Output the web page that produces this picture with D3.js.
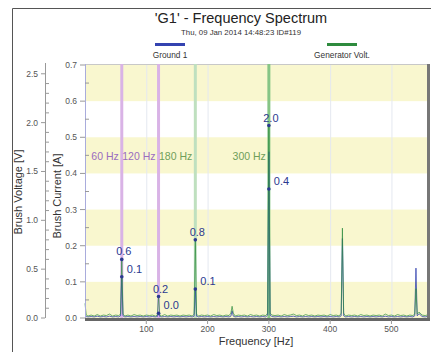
<!DOCTYPE html>
<html><head><meta charset="utf-8">
<script src="https://cdn.jsdelivr.net/npm/d3@7"></script>
<style>
body{margin:0;background:#fff;}
svg{display:block;font-family:"Liberation Sans",Arial,sans-serif;}
</style></head>
<body><svg id="c" width="431" height="352"></svg>
<script>
const title = "'G1' - Frequency Spectrum";
const subtitle = "Thu, 09 Jan 2014 14:48:23 ID#119";
const seriesNames = ["Ground 1", "Generator Volt."];
const currentTicks = [0, 0.1, 0.2, 0.3, 0.4, 0.5, 0.6, 0.7];
const voltageTicks = [0, 0.5, 1.0, 1.5, 2.0, 2.5];
const freqTicks = [100, 200, 300, 400, 500];
const markerFreq = [60, 120, 180, 300];
const markerLabels = ["60 Hz", "120 Hz", "180 Hz", "300 Hz"];
const markerVolt = [0.6, 0.22, 0.8, 1.97];
const markerCurrent = [0.114, 0.013, 0.08, 0.357];

const genVolt = [[0,0.15],[2,0.03],[5,0.02],[10,0.03],[15,0.02],[20,0.035],[25,0.02],[30,0.03],[35,0.025],[40,0.04],[45,0.02],[50,0.03],[55,0.025],[58,0.04],[60,0.61],[62,0.04],[65,0.02],[70,0.03],[75,0.02],[80,0.035],[85,0.025],[90,0.03],[95,0.02],[100,0.03],[105,0.025],[110,0.03],[115,0.02],[118,0.03],[120,0.22],[122,0.03],[125,0.02],[130,0.035],[135,0.02],[140,0.03],[145,0.025],[150,0.03],[155,0.02],[160,0.03],[165,0.025],[170,0.03],[175,0.02],[178,0.04],[180,0.8],[182,0.04],[185,0.02],[190,0.03],[195,0.025],[200,0.03],[205,0.02],[210,0.035],[215,0.025],[220,0.03],[225,0.02],[230,0.03],[235,0.025],[238,0.05],[240,0.12],[242,0.05],[245,0.02],[250,0.03],[255,0.025],[260,0.03],[265,0.02],[270,0.035],[275,0.025],[280,0.03],[285,0.02],[290,0.03],[295,0.025],[298,0.05],[300,1.97],[302,0.05],[305,0.03],[310,0.025],[315,0.03],[320,0.02],[325,0.035],[330,0.025],[335,0.03],[340,0.04],[345,0.025],[350,0.03],[355,0.02],[360,0.035],[365,0.025],[370,0.03],[375,0.02],[380,0.03],[385,0.025],[390,0.03],[395,0.02],[400,0.035],[405,0.025],[410,0.03],[415,0.02],[418,0.05],[420,0.92],[422,0.05],[425,0.02],[430,0.03],[435,0.025],[440,0.03],[445,0.02],[450,0.035],[455,0.025],[460,0.03],[465,0.02],[470,0.03],[475,0.025],[480,0.03],[485,0.02],[490,0.04],[495,0.025],[500,0.03],[505,0.02],[510,0.035],[515,0.025],[520,0.03],[525,0.02],[530,0.03],[535,0.025],[538,0.04],[540,0.3],[542,0.04],[545,0.06],[550,0.03],[555,0.025],[558,0.03]];

const ground1 = [[0,0.006],[2,0.004],[5,0.003],[10,0.004],[15,0.003],[20,0.005],[25,0.003],[30,0.004],[35,0.003],[40,0.005],[45,0.003],[50,0.004],[55,0.003],[58,0.006],[60,0.115],[62,0.006],[65,0.003],[70,0.004],[75,0.003],[80,0.004],[85,0.003],[90,0.004],[95,0.003],[100,0.004],[105,0.003],[110,0.004],[115,0.003],[118,0.004],[120,0.013],[122,0.004],[125,0.003],[130,0.004],[135,0.003],[140,0.004],[145,0.003],[150,0.004],[155,0.003],[160,0.004],[165,0.003],[170,0.004],[175,0.003],[178,0.005],[180,0.08],[182,0.005],[185,0.003],[190,0.004],[195,0.003],[200,0.004],[205,0.003],[210,0.004],[215,0.003],[220,0.004],[225,0.003],[230,0.004],[235,0.003],[238,0.005],[240,0.02],[242,0.005],[245,0.003],[250,0.004],[255,0.003],[260,0.004],[265,0.003],[270,0.004],[275,0.003],[280,0.004],[285,0.003],[290,0.004],[295,0.003],[298,0.008],[300,0.46],[302,0.008],[305,0.004],[310,0.003],[315,0.004],[320,0.003],[325,0.004],[330,0.003],[335,0.004],[340,0.005],[345,0.003],[350,0.004],[355,0.003],[360,0.004],[365,0.003],[370,0.004],[375,0.003],[380,0.004],[385,0.003],[390,0.004],[395,0.003],[400,0.004],[405,0.003],[410,0.004],[415,0.003],[418,0.006],[420,0.22],[422,0.006],[425,0.003],[430,0.004],[435,0.003],[440,0.004],[445,0.003],[450,0.004],[455,0.003],[460,0.004],[465,0.003],[470,0.004],[475,0.003],[480,0.004],[485,0.003],[490,0.005],[495,0.003],[500,0.004],[505,0.003],[510,0.004],[515,0.003],[520,0.004],[525,0.003],[530,0.004],[535,0.003],[538,0.006],[540,0.138],[542,0.006],[545,0.012],[550,0.004],[555,0.003],[558,0.004]];

const svg = d3.select("#c");
const L = 85, R = 427, T = 64, B = 318;
const x = d3.scaleLinear().domain([0, 558]).range([L, R]);
const yA = d3.scaleLinear().domain([0, 0.7]).range([B, 65]);
const yV = d3.scaleLinear().domain([0, 2.59]).range([B, 65]);
const blue = "#3443b0", green = "#2e8b3e";

// outer border
svg.append("path").attr("d", `M12.5,352 V8.5 H431`).attr("fill", "none").attr("stroke", "#555").attr("stroke-width", 1);

// titles
svg.append("text").attr("x", 241).attr("y", 23).attr("text-anchor", "middle").attr("font-size", 14.5).attr("fill", "#222").text(title);
svg.append("text").attr("x", 241).attr("y", 35).attr("text-anchor", "middle").attr("font-size", 7.8).attr("fill", "#333").text(subtitle);

// legend
const legX = [170, 342], legC = [blue, green];
seriesNames.forEach((n, i) => {
  svg.append("line").attr("x1", legX[i] - 15).attr("x2", legX[i] + 15).attr("y1", 44.5).attr("y2", 44.5).attr("stroke", legC[i]).attr("stroke-width", 3);
  svg.append("text").attr("x", legX[i]).attr("y", 58).attr("text-anchor", "middle").attr("font-size", 8.3).attr("fill", "#333").text(n);
});

// bands
const bands = [[0, 0.1], [0.2, 0.3], [0.4, 0.5], [0.6, 0.7]];
svg.append("g").selectAll("rect").data(bands).join("rect")
  .attr("x", L).attr("width", R - L)
  .attr("y", d => yA(d[1])).attr("height", d => yA(d[0]) - yA(d[1]))
  .attr("fill", "#f9f7cf");

// faint vertical grid
svg.append("g").selectAll("line").data(freqTicks).join("line")
  .attr("x1", d => x(d) + 0.5).attr("x2", d => x(d) + 0.5).attr("y1", T).attr("y2", B)
  .attr("stroke", "#e4e8f0").attr("stroke-width", 1);

// frame
svg.append("line").attr("x1", L).attr("x2", R).attr("y1", T + 0.5).attr("y2", T + 0.5).attr("stroke", "#c8c8c8");
svg.append("line").attr("x1", R + 1.5).attr("x2", R + 1.5).attr("y1", T).attr("y2", B + 3).attr("stroke", "#777").attr("stroke-width", 3);

// marker lines
const mCol = ["#d9b3e6", "#d9b3e6", "#bfe0bf", "#86c586"];
const mTxt = ["#9a6cc0", "#9a6cc0", "#6f9e5a", "#6f9e5a"];
markerFreq.forEach((f, i) => {
  svg.append("line").attr("x1", x(f)).attr("x2", x(f)).attr("y1", T).attr("y2", B).attr("stroke", mCol[i]).attr("stroke-width", 3);
  svg.append("text").attr("x", x(f) - 3).attr("y", 160).attr("text-anchor", "end").attr("font-size", 10.5).attr("fill", mTxt[i]).text(markerLabels[i]);
});

// series
const lineV = d3.line().x(d => x(d[0])).y(d => yV(d[1]));
const lineA = d3.line().x(d => x(d[0])).y(d => yA(d[1]));
svg.append("path").datum(ground1).attr("d", lineA).attr("fill", "none").attr("stroke", blue).attr("stroke-width", 1).attr("opacity", 0.8);
svg.append("path").datum(genVolt).attr("d", lineV).attr("fill", "none").attr("stroke", green).attr("stroke-width", 1).attr("opacity", 0.7);

// bottom axis bar
svg.append("line").attr("x1", L).attr("x2", R + 3).attr("y1", B + 1.5).attr("y2", B + 1.5).attr("stroke", "#666").attr("stroke-width", 3);

// marker points
const mp = svg.append("g").attr("fill", "#2b3990").attr("font-size", 11);
markerFreq.forEach((f, i) => {
  const yv = yV(markerVolt[i]), ya = yA(markerCurrent[i]);
  mp.append("circle").attr("cx", x(f)).attr("cy", yv).attr("r", 1.8);
  mp.append("circle").attr("cx", x(f)).attr("cy", ya).attr("r", 1.8);
  mp.append("text").attr("x", x(f) + 2).attr("y", yv - 4).attr("text-anchor", "middle").text(markerVolt[i].toFixed(1));
  mp.append("text").attr("x", x(f) + 5).attr("y", ya - 4).text(markerCurrent[i].toFixed(1));
});

// current axis
const gA = svg.append("g").attr("font-size", 8.5).attr("fill", "#555");
gA.append("line").attr("x1", L + 0.5).attr("x2", L + 0.5).attr("y1", T).attr("y2", B).attr("stroke", "#a9acdc");
currentTicks.forEach(t => {
  gA.append("line").attr("x1", L - 5).attr("x2", L).attr("y1", yA(t)).attr("y2", yA(t)).attr("stroke", "#999");
  gA.append("text").attr("x", L - 8).attr("y", yA(t) + 3).attr("text-anchor", "end").text(t.toFixed(1));
});
d3.range(0.05, 0.7, 0.1).forEach(t => {
  gA.append("line").attr("x1", L).attr("x2", L + 4).attr("y1", yA(t)).attr("y2", yA(t)).attr("stroke", "#999");
});

// voltage axis
const VX = 45;
const gV = svg.append("g").attr("font-size", 8.5).attr("fill", "#555");
gV.append("line").attr("x1", VX + 0.5).attr("x2", VX + 0.5).attr("y1", 63).attr("y2", B).attr("stroke", "#999");
voltageTicks.forEach(t => {
  gV.append("line").attr("x1", VX - 4).attr("x2", VX).attr("y1", yV(t)).attr("y2", yV(t)).attr("stroke", "#999");
  gV.append("text").attr("x", VX - 7).attr("y", yV(t) + 3).attr("text-anchor", "end").text(t.toFixed(1));
});
d3.range(1, 26).filter(k => k % 5 !== 0).forEach(k => {
  gV.append("line").attr("x1", VX).attr("x2", VX + 4).attr("y1", yV(k / 10)).attr("y2", yV(k / 10)).attr("stroke", "#999");
});

// x axis
const gX = svg.append("g").attr("font-size", 8.5).attr("fill", "#555");
freqTicks.forEach(t => {
  gX.append("line").attr("x1", x(t)).attr("x2", x(t)).attr("y1", B + 2).attr("y2", B + 6).attr("stroke", "#999");
  gX.append("text").attr("x", x(t)).attr("y", 332).attr("text-anchor", "middle").text(t);
});

// axis titles
svg.append("text").attr("x", 256).attr("y", 345).attr("text-anchor", "middle").attr("font-size", 11).attr("fill", "#333").text("Frequency [Hz]");
svg.append("text").attr("transform", "translate(22,192) rotate(-90)").attr("text-anchor", "middle").attr("font-size", 11).attr("fill", "#333").text("Brush Voltage [V]");
svg.append("text").attr("transform", "translate(61,196) rotate(-90)").attr("text-anchor", "middle").attr("font-size", 11).attr("fill", "#333").text("Brush Current [A]");
</script></body></html>
